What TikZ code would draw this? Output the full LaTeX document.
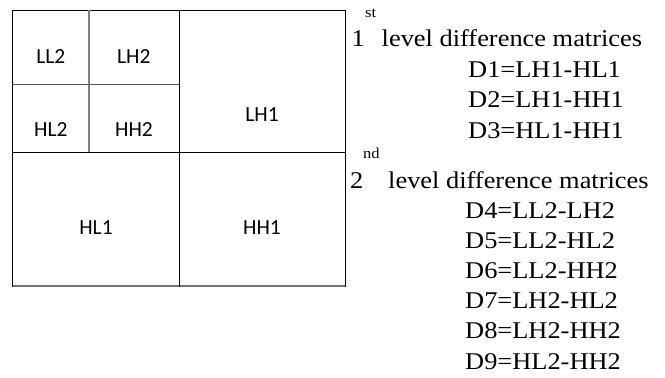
\documentclass[tikz,border=0pt]{standalone}
\usepackage{fontspec}
\setmainfont{Liberation Serif}
\newfontfamily\tnrfont[FakeStretch=1.1]{Liberation Serif}
\newfontfamily\calibrifont{Carlito}
\begin{document}
\begin{tikzpicture}[x=1pt,y=-1pt,
  cell/.style={font=\calibrifont\fontsize{21.5}{25}\selectfont, inner sep=0pt, anchor=base},
  txt/.style={font=\tnrfont\fontsize{24}{28}\selectfont, inner sep=0pt, anchor=base west},
  suptxt/.style={font=\tnrfont\fontsize{15}{18}\selectfont, inner sep=0pt, anchor=base west},
  outerline/.style={line width=1pt, black},
  innerv/.style={line width=1.6pt, black!50},
  innerh/.style={line width=1.1pt, black!65},
  bottomline/.style={line width=1.6pt, black!55}]
\useasboundingbox (0,0) rectangle (665,378);
% grid
\draw[outerline] (12.7,287) -- (12.7,10.3) -- (345.3,10.3) -- (345.3,287);
\draw[bottomline] (12.7,286) -- (345.3,286);
\draw[outerline] (179.7,10.3) -- (179.7,287);
\draw[outerline] (12.7,152.7) -- (345.3,152.7);
\draw[innerv] (89,10.3) -- (89,152.2);
\draw[innerh] (12.7,84.3) -- (179.2,84.3);
% cell labels
\node[cell] (ll2) at (50.8,63) {LL2};
\node[cell] (lh2) at (133.8,63) {LH2};
\node[cell] (hl2) at (50.8,136.5) {HL2};
\node[cell] (hh2) at (134,136.5) {HH2};
\node[cell] (lh1) at (262,121.7) {LH1};
\node[cell] (hl1) at (96,234) {HL1};
\node[cell] (hh1) at (262,234) {HH1};
% first level text
\node[txt] (one) at (351.5,46) {1};
\node[suptxt] (st) at (365,17) {st};
\node[txt] (lvl1) at (381.5,46) {level difference matrices};
\node[txt] (d1) at (468,77) {D1=LH1-HL1};
\node[txt] (d2) at (468,107) {D2=LH1-HH1};
\node[txt] (d3) at (468,138) {D3=HL1-HH1};
% second level text
\node[txt] (two) at (350,188) {2};
\node[suptxt] (nd) at (363,158) {nd};
\node[txt] (lvl2) at (388,188) {level difference matrices};
\node[txt] (d4) at (465,218) {D4=LL2-LH2};
\node[txt] (d5) at (465,248) {D5=LL2-HL2};
\node[txt] (d6) at (465,278) {D6=LL2-HH2};
\node[txt] (d7) at (465,308) {D7=LH2-HL2};
\node[txt] (d8) at (465,338) {D8=LH2-HH2};
\node[txt] (d9) at (465,369) {D9=HL2-HH2};
\end{tikzpicture}
\end{document}
